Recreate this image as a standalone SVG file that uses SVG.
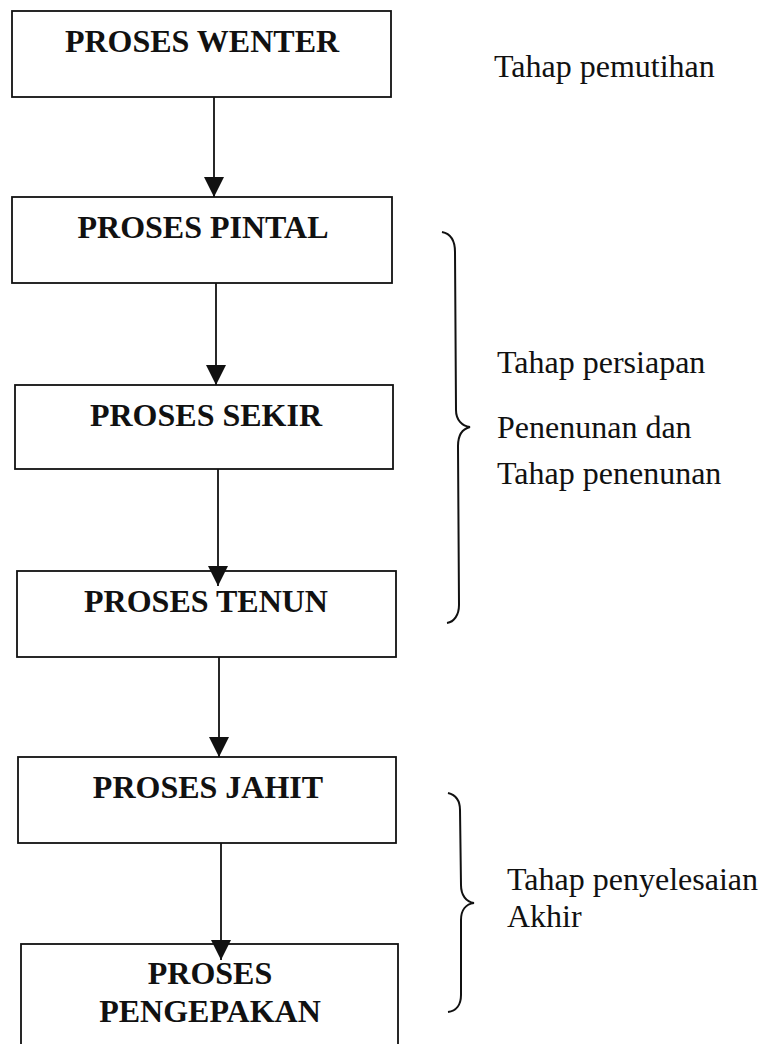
<svg xmlns="http://www.w3.org/2000/svg" width="770" height="1044" viewBox="0 0 770 1044">
<style>
.box{fill:#fff;stroke:#111;stroke-width:1.8}
.bt{font-family:"Liberation Serif","Times New Roman",serif;font-weight:bold;font-size:32px;fill:#111;text-anchor:middle}
.lt{font-family:"Liberation Serif","Times New Roman",serif;font-size:32px;fill:#111}
.con{stroke:#111;stroke-width:1.8;fill:none}
.brace{stroke:#111;stroke-width:2;fill:none}
</style>
<defs>
<marker id="ah" markerUnits="userSpaceOnUse" markerWidth="20" markerHeight="20" refX="20" refY="10" orient="auto">
<path d="M0,0 L20,10 L0,20 z" fill="#111"/>
</marker>
</defs>
<rect width="770" height="1044" fill="#fff"/>
<g id="n1"><rect class="box" x="12" y="11" width="379" height="86"/><text class="bt" x="202" y="52">PROSES WENTER</text></g>
<g id="n2"><rect class="box" x="12" y="197" width="380" height="86"/><text class="bt" x="203" y="238">PROSES PINTAL</text></g>
<g id="n3"><rect class="box" x="15" y="385" width="378" height="84"/><text class="bt" x="206" y="426">PROSES SEKIR</text></g>
<g id="n4"><rect class="box" x="17" y="571" width="379" height="86"/><text class="bt" x="206" y="612">PROSES TENUN</text></g>
<g id="n5"><rect class="box" x="18" y="757" width="378" height="86"/><text class="bt" x="208" y="798">PROSES JAHIT</text></g>
<g id="n6"><rect class="box" x="21" y="944" width="377" height="104"/><text class="bt" x="210" y="984">PROSES</text><text class="bt" x="210" y="1022">PENGEPAKAN</text></g>
<g id="connectors">
<line class="con" x1="214" y1="97" x2="214" y2="197" marker-end="url(#ah)"/>
<line class="con" x1="216" y1="283" x2="216" y2="385" marker-end="url(#ah)"/>
<line class="con" x1="218" y1="469" x2="218" y2="586" marker-end="url(#ah)"/>
<line class="con" x1="219" y1="657" x2="219" y2="757" marker-end="url(#ah)"/>
<line class="con" x1="221" y1="843" x2="221" y2="960" marker-end="url(#ah)"/>
</g>
<g id="brace1"><path class="brace" d="M442,232 C452,234 455,242 455,252 L456,410 C456,420 462,426 470,427 C462,429 458,436 458,446 L459,605 C459,615 454,622 447,623"/></g>
<g id="brace2"><path class="brace" d="M448,793 C456,795 460,800 460,810 L461,885 C461,895 466,902 474,903 C466,904 461,910 461,920 L461,995 C461,1005 456,1011 448,1012"/></g>
<g id="labels">
<text class="lt" x="494" y="77">Tahap pemutihan</text>
<text class="lt" x="497" y="373">Tahap persiapan</text>
<text class="lt" x="497" y="438">Penenunan dan</text>
<text class="lt" x="497" y="484">Tahap penenunan</text>
<text class="lt" x="507" y="890">Tahap penyelesaian</text>
<text class="lt" x="507" y="927">Akhir</text>
</g>
</svg>
